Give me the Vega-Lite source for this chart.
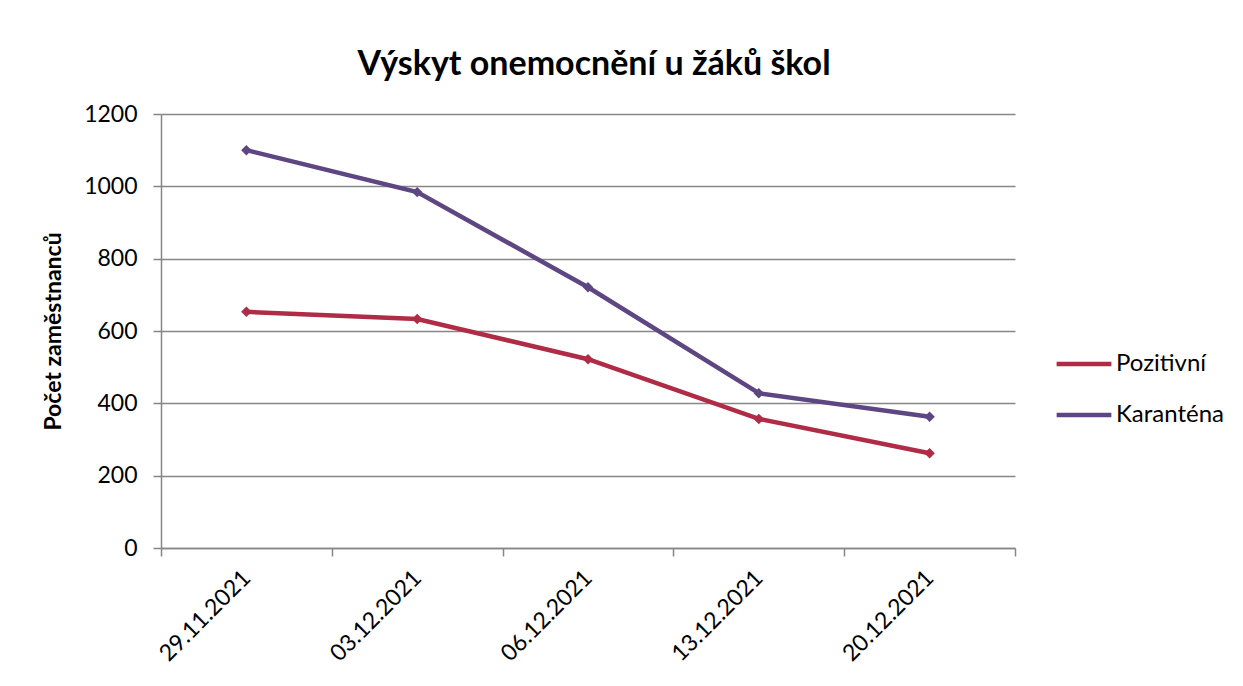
{
  "$schema": "https://vega.github.io/schema/vega-lite/v6.json",
  "width": 854,
  "height": 434,
  "autosize": "none",
  "padding": {"left": 161, "top": 114, "right": 228, "bottom": 138},
  "background": "white",
  "title": {
    "text": "Výskyt onemocnění u žáků škol",
    "font": "Lato",
    "fontSize": 34,
    "fontWeight": "bold",
    "color": "#000000",
    "anchor": "middle",
    "dx": 6,
    "offset": 21
  },
  "data": {
    "values": [
      {"datum": "29.11.2021", "serie": "Pozitivní", "pocet": 653},
      {"datum": "03.12.2021", "serie": "Pozitivní", "pocet": 633},
      {"datum": "06.12.2021", "serie": "Pozitivní", "pocet": 522},
      {"datum": "13.12.2021", "serie": "Pozitivní", "pocet": 357},
      {"datum": "20.12.2021", "serie": "Pozitivní", "pocet": 262},
      {"datum": "29.11.2021", "serie": "Karanténa", "pocet": 1100},
      {"datum": "03.12.2021", "serie": "Karanténa", "pocet": 984},
      {"datum": "06.12.2021", "serie": "Karanténa", "pocet": 721},
      {"datum": "13.12.2021", "serie": "Karanténa", "pocet": 428},
      {"datum": "20.12.2021", "serie": "Karanténa", "pocet": 363}
    ]
  },
  "mark": {
    "type": "line",
    "strokeWidth": 4.5,
    "point": {"shape": "diamond", "size": 110, "filled": true}
  },
  "encoding": {
    "x": {
      "field": "datum",
      "type": "ordinal",
      "sort": null,
      "bandPosition": 0.5,
      "scale": {"type": "band", "paddingInner": 0, "paddingOuter": 0},
      "axis": {
        "title": null,
        "labelAngle": -45,
        "labelAlign": "right",
        "labelBaseline": "middle",
        "labelPadding": 18,
        "labelFont": "Lato",
        "labelFontSize": 23,
        "labelColor": "#000000",
        "tickBand": "extent",
        "tickSize": 8,
        "tickColor": "#868686",
        "tickWidth": 1.5,
        "domainColor": "#868686",
        "domainWidth": 1.5,
        "grid": false
      }
    },
    "y": {
      "field": "pocet",
      "type": "quantitative",
      "scale": {"domain": [0, 1200]},
      "axis": {
        "title": "Počet zaměstnanců",
        "titleFont": "Lato",
        "titleFontSize": 23,
        "titleFontWeight": "bold",
        "titleColor": "#000000",
        "titlePadding": 18,
        "format": "d",
        "values": [0, 200, 400, 600, 800, 1000, 1200],
        "labelFont": "Lato",
        "labelFontSize": 23,
        "labelColor": "#000000",
        "labelPadding": 16,
        "tickSize": 8,
        "tickColor": "#868686",
        "tickWidth": 1.5,
        "domainColor": "#868686",
        "domainWidth": 1.5,
        "grid": true,
        "gridColor": "#868686",
        "gridWidth": 1.5
      }
    },
    "color": {
      "field": "serie",
      "type": "nominal",
      "sort": ["Pozitivní", "Karanténa"],
      "scale": {"domain": ["Pozitivní", "Karanténa"], "range": ["#B02B45", "#5D4682"]},
      "legend": {
        "title": null,
        "orient": "none",
        "legendX": 893,
        "legendY": 220,
        "symbolType": "stroke",
        "symbolSize": 3000,
        "symbolStrokeWidth": 4.5,
        "labelFont": "Lato",
        "labelFontSize": 24,
        "labelColor": "#000000",
        "labelOffset": 2,
        "rowPadding": 9
      }
    }
  },
  "config": {
    "view": {"stroke": null}
  }
}
